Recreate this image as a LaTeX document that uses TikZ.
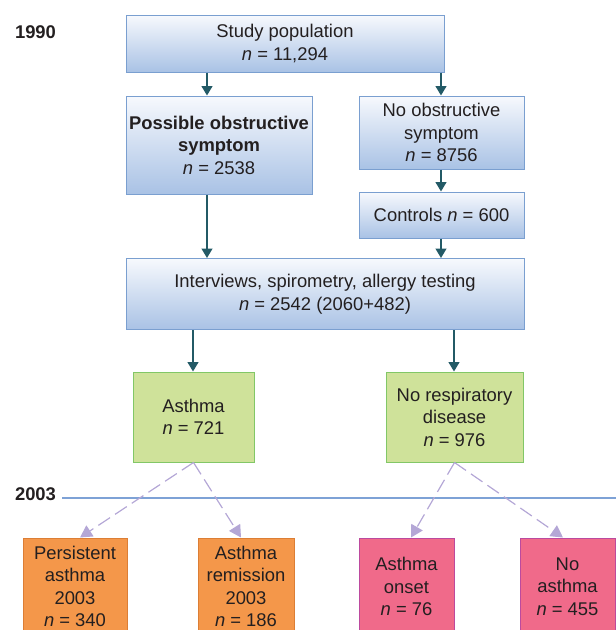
\documentclass[tikz,border=0pt]{standalone}
\usepackage{fontspec}
\setmainfont{Liberation Sans}
\usetikzlibrary{arrows.meta,calc}
\definecolor{txt}{HTML}{231F20}
\definecolor{blueedge}{HTML}{7A9FD0}
\definecolor{bluetop}{HTML}{F7F9FD}
\definecolor{bluebot}{HTML}{A9C2E5}
\definecolor{greenfill}{HTML}{CFE29A}
\definecolor{greenedge}{HTML}{82C767}
\definecolor{orangefill}{HTML}{F4974A}
\definecolor{orangeedge}{HTML}{DC7E35}
\definecolor{pinkfill}{HTML}{F06A8A}
\definecolor{pinkedge}{HTML}{BC4A9E}
\definecolor{tealarrow}{HTML}{235A66}
\definecolor{lav}{HTML}{B4A7D6}
\definecolor{yearline}{HTML}{7EA2D6}
\begin{document}
\begin{tikzpicture}[x=1pt,y=1pt,
  font=\fontsize{18.4}{22.5}\selectfont,
  boxbase/.style={draw, line width=1pt, align=center, inner sep=0pt, text=txt},
  bluebox/.style={boxbase, draw=blueedge, top color=bluetop, bottom color=bluebot},
  greenbox/.style={boxbase, draw=greenedge, fill=greenfill},
  orangebox/.style={boxbase, draw=orangeedge, fill=orangefill},
  pinkbox/.style={boxbase, draw=pinkedge, fill=pinkfill},
  arr/.style={draw=tealarrow, line width=1.4pt, -{Triangle[width=11pt,length=9.5pt]}},
  darr/.style={draw=lav, line width=1.2pt, dash pattern=on 14pt off 6pt, -{Triangle[width=13pt,length=12pt,fill=lav]}},
  year/.style={font=\fontsize{18.4}{22.5}\selectfont\bfseries, text=txt, inner sep=0pt}
]
\useasboundingbox (0,0) rectangle (616,-630);
\clip (0,0) rectangle (616,-630);

\node[year] (y1990) at (35.5,-32) {1990};
\node[year] (y2003) at (35.5,-494) {2003};
\coordinate (lineL) at (62,-498);
\coordinate (lineR) at (616,-498);
\draw[yearline, line width=1.5pt] (lineL) -- (lineR);

\node[bluebox, minimum width=318, minimum height=57] (study) at (285,-43.5)
  {Study population\\\textit{n} = 11,294};
\node[bluebox, minimum width=186, minimum height=98] (possible) at (219,-145)
  {\textbf{Possible obstructive}\\\textbf{symptom}\\\textit{n} = 2538};
\node[bluebox, minimum width=165, minimum height=73] (noobs) at (441.5,-132.5)
  {No obstructive\\symptom\\\textit{n} = 8756};
\node[bluebox, minimum width=165, minimum height=46] (controls) at (441.5,-215)
  {Controls \textit{n} = 600};
\node[bluebox, minimum width=398, minimum height=71] (interviews) at (325,-294)
  {Interviews, spirometry, allergy testing\\\textit{n} = 2542 (2060+482)};
\node[greenbox, minimum width=121, minimum height=90] (asthma) at (193.5,-417)
  {Asthma\\\textit{n} = 721};
\node[greenbox, minimum width=137, minimum height=90] (noresp) at (454.5,-417)
  {No respiratory\\disease\\\textit{n} = 976};

\node[orangebox, minimum width=104, minimum height=97] (persist) at (75,-586.5)
  {Persistent\\asthma\\2003\\\textit{n} = 340};
\node[orangebox, minimum width=96, minimum height=97] (remission) at (246,-586.5)
  {Asthma\\remission\\2003\\\textit{n} = 186};
\node[pinkbox, minimum width=95, minimum height=97] (onset) at (406.5,-586.5)
  {Asthma\\onset\\\textit{n} = 76};
\node[pinkbox, minimum width=95, minimum height=97] (noasthma) at (567.5,-586.5)
  {No\\asthma\\\textit{n} = 455};

\coordinate (xa) at (207,0);
\coordinate (xb) at (441,0);
\coordinate (xc) at (193,0);
\coordinate (xd) at (454,0);

\draw[arr] (study.south -| xa) -- (possible.north -| xa);
\draw[arr] (study.south -| xb) -- (noobs.north -| xb);
\draw[arr] (noobs.south -| xb) -- (controls.north -| xb);
\draw[arr] (possible.south -| xa) -- (interviews.north -| xa);
\draw[arr] (controls.south -| xb) -- (interviews.north -| xb);
\draw[arr] (interviews.south -| xc) -- (asthma.north -| xc);
\draw[arr] (interviews.south -| xd) -- (noresp.north -| xd);

\draw[darr] (asthma.south) -- ($(persist.north)+(5,0)$);
\draw[darr] (asthma.south) -- ($(remission.north)+(-5,0)$);
\draw[darr] (noresp.south) -- ($(onset.north)+(4.5,0)$);
\draw[darr] (noresp.south) -- ($(noasthma.north)+(-4.5,0)$);
\end{tikzpicture}
\end{document}
